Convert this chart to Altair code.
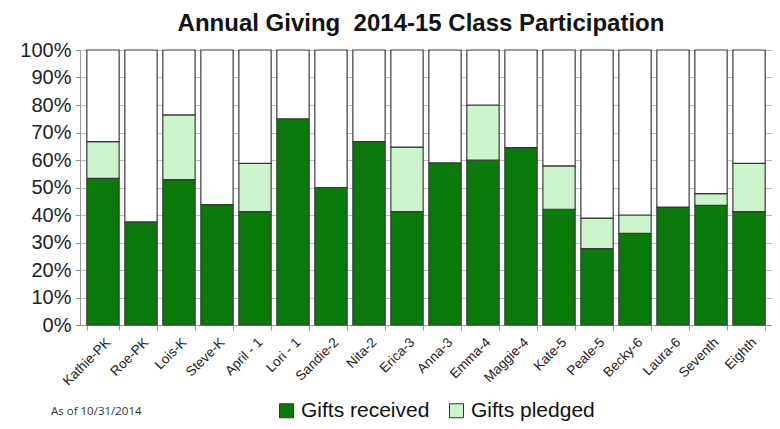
import altair as alt
import pandas as pd

classes = ["Kathie-PK", "Roe-PK", "Lois-K", "Steve-K", "April - 1", "Lori - 1", "Sandie-2",
           "Nita-2", "Erica-3", "Anna-3", "Emma-4", "Maggie-4", "Kate-5", "Peale-5",
           "Becky-6", "Laura-6", "Seventh", "Eighth"]
received = [53.3, 37.5, 52.9, 43.8, 41.2, 75.0, 50.0, 66.7, 41.2, 59.0, 60.0, 64.5,
            42.1, 27.8, 33.3, 42.9, 43.5, 41.2]
pledged = [13.4, 0.0, 23.5, 0.0, 17.6, 0.0, 0.0, 0.0, 23.5, 0.0, 20.0, 0.0,
           15.8, 11.1, 6.7, 0.0, 4.3, 17.6]

series_names = ["Gifts received", "Gifts pledged", "Not yet"]
colors = ["#0a7a0a", "#ccf5cc", "#ffffff"]

rows = []
for c, r, p in zip(classes, received, pledged):
    rows.append({"cls": c, "series": "Gifts received", "start": 0, "end": r / 100})
    if p > 0:
        rows.append({"cls": c, "series": "Gifts pledged", "start": r / 100, "end": (r + p) / 100})
    rows.append({"cls": c, "series": "Not yet", "start": (r + p) / 100, "end": 1.0})
df = pd.DataFrame(rows)

bars = alt.Chart(df).mark_bar(stroke="#3a3a3a", strokeWidth=1.2).encode(
    x=alt.X("cls:N", sort=classes, title=None,
            scale=alt.Scale(paddingInner=0.15, paddingOuter=0.18),
            axis=alt.Axis(labelAngle=-45, labelAlign="right", labelBaseline="top",
                          labelFontSize=13.5, labelFont="Liberation Sans", labelColor="#222",
                          labelPadding=5, domainColor="#999", tickColor="#999",
                          tickSize=5, tickBand="extent")),
    y=alt.Y("start:Q", title=None,
            scale=alt.Scale(domain=[0, 1], nice=False),
            axis=alt.Axis(format=".0%", values=[i / 10 for i in range(11)],
                          labelFontSize=20, labelFont="Liberation Sans", labelColor="#222",
                          labelPadding=4, domainColor="#999", tickColor="#999", tickSize=5,
                          grid=True, gridColor="#bdbdbd")),
    y2="end:Q",
    color=alt.Color("series:N",
                    scale=alt.Scale(domain=series_names, range=colors),
                    legend=alt.Legend(values=["Gifts received", "Gifts pledged"], title=None,
                                      orient="none", legendX=196, legendY=350,
                                      direction="horizontal", symbolType="square",
                                      symbolSize=196, symbolStrokeColor="#333",
                                      symbolStrokeWidth=1, symbolOpacity=1,
                                      labelFontSize=21, labelFont="Liberation Sans",
                                      labelColor="#111", columnPadding=16, labelOffset=4)),
)

note = alt.Chart(pd.DataFrame({"t": ["As of 10/31/2014"]})).mark_text(
    font="Open Sans", fontSize=11.5, align="left", color="#333"
).encode(x=alt.value(-29), y=alt.value(362), text="t:N")

chart = alt.layer(bars, note).properties(
    width=692, height=275,
    title=alt.TitleParams("Annual Giving\u00a0 2014-15 Class Participation", fontSize=24,
                          font="Liberation Sans", fontWeight="bold", color="#111",
                          anchor="middle", dx=-5, offset=4),
    autosize=alt.AutoSizeParams(type="none"),
    padding={"left": 72, "top": 42, "right": 0, "bottom": 96},
).configure_view(stroke=None)

chart.save("out.html", embed_options={"renderer": "svg", "actions": False})
